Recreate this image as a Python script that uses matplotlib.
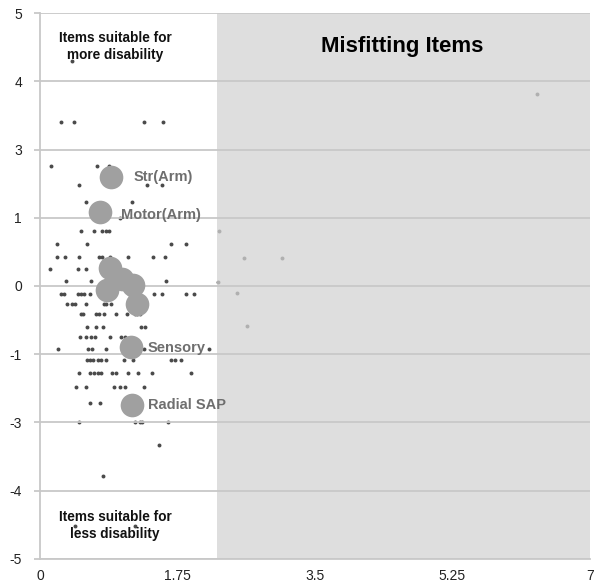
import matplotlib.pyplot as plt

plt.rcParams['font.family'] = ['Liberation Sans', 'DejaVu Sans']

# y values are in grid positions (one grid step per label)
y_ticks = [-4, -3, -2, -1, 0, 1, 2, 3, 4]
y_labels = ['-5', '-4', '-3', '-1', '0', '1', '3', '4', '5']
x_ticks = [0, 1.75, 3.5, 5.25, 7]
x_labels = ['0', '1.75', '3.5', '5.25', '7']

# small item dots
dot_x = [0.271, 0.433, 1.324, 1.569,
         0.144, 0.722, 0.874,
         0.500, 1.362, 1.557,
         0.582, 1.177,
         1.018,
         0.522, 0.687, 0.795, 0.834, 0.878,
         0.216, 0.598, 1.671, 1.862,
         0.220, 0.312, 0.496, 0.751, 0.785, 0.891, 1.126, 1.432, 1.587,
         0.125, 0.481, 0.588,
         0.327, 0.645, 0.825, 1.604,
         0.270, 0.308, 0.481, 0.519, 0.560, 0.636, 0.874, 1.129, 1.167, 1.209, 1.445, 1.553, 1.854, 1.963,
         0.344, 0.411, 0.442, 0.582, 0.811, 0.844, 0.907, 1.149,
         0.526, 0.547, 0.717, 0.751, 0.811, 0.971, 1.111, 1.205, 1.238, 1.269,
         0.598, 0.717, 0.802, 1.282, 1.333,
         0.505, 0.589, 0.653, 0.696, 0.887, 1.035, 1.078,
         0.229, 0.611, 0.666, 0.844, 1.324, 2.147,
         0.598, 0.633, 0.675, 0.738, 0.780, 0.844, 1.069, 1.184, 1.663, 1.714, 1.791,
         0.493, 0.633, 0.687, 0.738, 0.780, 0.920, 0.963, 1.120, 1.247, 1.429, 1.918,
         0.462, 0.589, 0.942, 1.014, 1.078, 1.324,
         0.640, 0.760,
         0.500, 1.213, 1.277, 1.302, 1.629,
         1.515, 0.802, 0.403, 0.445, 1.209,
         6.329, 2.278, 2.600, 3.080, 2.265, 2.503, 2.631]
dot_y = [2.41, 2.41, 2.41, 2.41,
         1.76, 1.76, 1.76,
         1.48, 1.48, 1.48,
         1.235, 1.235,
         1.00,
         0.80, 0.80, 0.80, 0.80, 0.80,
         0.61, 0.61, 0.61, 0.61,
         0.42, 0.42, 0.42, 0.42, 0.42, 0.42, 0.42, 0.42, 0.42,
         0.245, 0.245, 0.245,
         0.07, 0.07, 0.07, 0.07,
         -0.11, -0.11, -0.11, -0.11, -0.11, -0.11, -0.11, -0.11, -0.11, -0.11, -0.11, -0.11, -0.11, -0.11,
         -0.26, -0.26, -0.26, -0.26, -0.26, -0.26, -0.26, -0.26,
         -0.41, -0.41, -0.41, -0.41, -0.41, -0.41, -0.41, -0.41, -0.41, -0.41,
         -0.595, -0.595, -0.595, -0.595, -0.595,
         -0.75, -0.75, -0.75, -0.75, -0.75, -0.75, -0.75,
         -0.925, -0.925, -0.925, -0.925, -0.925, -0.925,
         -1.08, -1.08, -1.08, -1.08, -1.08, -1.08, -1.08, -1.08, -1.08, -1.08, -1.08,
         -1.28, -1.28, -1.28, -1.28, -1.28, -1.28, -1.28, -1.28, -1.28, -1.28, -1.28,
         -1.48, -1.48, -1.48, -1.48, -1.48, -1.48,
         -1.715, -1.715,
         -1.99, -1.99, -1.99, -1.99, -1.99,
         -2.335, -2.79, 3.29, -3.51, -3.51,
         2.81, 0.80, 0.414, 0.414, 0.063, -0.102, -0.589]

# highlighted items (big circles)
big_x = [0.907, 0.767, 0.891, 1.044, 1.184, 0.853, 1.235, 1.154, 1.171]
big_y = [1.598, 1.086, 0.263, 0.102, 0.015, -0.058, -0.263, -0.887, -1.740]

item_names = ['Str(Arm)', 'Motor(Arm)', 'Sensory', 'Radial SAP']
name_x = [1.19, 1.035, 1.375, 1.375]
name_y = [1.59, 1.04, -0.91, -1.74]

misfit_start = 2.25

fig = plt.figure(figsize=(6, 5.86), dpi=100)
ax = fig.add_axes([0.0667, 0.0461, 0.9166, 0.9317])

ax.scatter(dot_x, dot_y, s=8, color='#4a4a4a', linewidths=0, zorder=2)
ax.axvspan(misfit_start, 7, color='#d3d3d3', alpha=0.75, linewidth=0, zorder=2.5)
for yt in y_ticks:
    ax.axhline(yt, color='#c8c8c8', linewidth=1.3, zorder=3)
ax.scatter(big_x, big_y, s=290, color='#a0a0a0', linewidths=0, zorder=4)

for name, tx, ty in zip(item_names, name_x, name_y):
    ax.text(tx, ty, name, fontsize=10.5, fontweight='bold', color='#6e6e6e',
            va='center', ha='left', zorder=5)

ax.text(0.955, 3.51, 'Items suitable for\nmore disability', fontsize=9.8,
        fontweight='bold', color='#111111', ha='center', va='center',
        linespacing=1.25, zorder=5)
ax.text(0.955, -3.51, 'Items suitable for\nless disability', fontsize=9.8,
        fontweight='bold', color='#111111', ha='center', va='center',
        linespacing=1.25, zorder=5)
ax.text(4.61, 3.51, 'Misfitting Items', fontsize=16, fontweight='bold',
        color='#000000', ha='center', va='center', zorder=5)

ax.set_xlim(0, 7)
ax.set_ylim(-4, 4)
ax.set_xticks(x_ticks)
ax.set_xticklabels(x_labels)
ax.set_yticks(y_ticks)
ax.set_yticklabels(y_labels)
ax.tick_params(axis='x', length=0, pad=7, labelsize=10, colors='#222222')
ax.tick_params(axis='y', length=4, width=1.3, color='#c8c8c8', pad=9,
               labelsize=10, labelcolor='#222222')

for side in ['top', 'right']:
    ax.spines[side].set_visible(False)
for side in ['left', 'bottom']:
    ax.spines[side].set_color('#c8c8c8')
    ax.spines[side].set_linewidth(1.3)

fig.savefig('out.png', dpi=100)
